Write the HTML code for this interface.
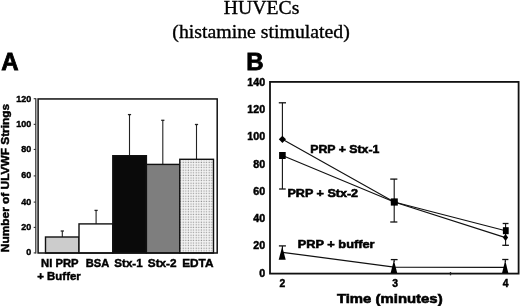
<!DOCTYPE html>
<html><head><meta charset="utf-8"><style>
html,body{margin:0;padding:0;background:#fff;width:520px;height:306px;overflow:hidden}
svg{display:block;will-change:transform}
</style></head><body>
<svg width="520" height="306" viewBox="0 0 520 306">
<defs>
<pattern id="dots" x="0" y="0" width="2.6" height="2.6" patternUnits="userSpaceOnUse">
<rect width="2.6" height="2.6" fill="#f5f5f5"/>
<rect x="0.6" y="0.6" width="1.2" height="1.2" fill="#939393"/>
</pattern>
</defs>
<rect width="520" height="306" fill="#fff"/>
<text x="261.6" y="13.9" font-family="'Liberation Serif', serif" font-size="18.4" font-weight="normal" text-anchor="middle" fill="#000" textLength="75.5" lengthAdjust="spacingAndGlyphs" stroke="#000" stroke-width="0.35" >HUVECs</text>
<text x="261.1" y="38.1" font-family="'Liberation Serif', serif" font-size="18.4" font-weight="normal" text-anchor="middle" fill="#000" textLength="177.5" lengthAdjust="spacingAndGlyphs" stroke="#000" stroke-width="0.35" >(histamine stimulated)</text>
<text x="1.2" y="70.3" font-family="'Liberation Sans', sans-serif" font-size="24" font-weight="bold" text-anchor="start" fill="#000" stroke="#000" stroke-width="0.8" >A</text>
<line x1="62.3" y1="237.0" x2="62.3" y2="231.0" stroke="#222" stroke-width="1.1"/>
<line x1="60.699999999999996" y1="231.0" x2="63.9" y2="231.0" stroke="#222" stroke-width="1.3"/>
<rect x="45.5" y="237.0" width="33.5" height="16.0" fill="#cccccc" stroke="#111" stroke-width="1.4"/>
<line x1="96.1" y1="223.9" x2="96.1" y2="210.4" stroke="#222" stroke-width="1.1"/>
<line x1="94.5" y1="210.4" x2="97.69999999999999" y2="210.4" stroke="#222" stroke-width="1.3"/>
<rect x="79.0" y="223.9" width="33.8" height="29.099999999999994" fill="#ffffff" stroke="#111" stroke-width="1.4"/>
<line x1="129.5" y1="155.7" x2="129.5" y2="114.6" stroke="#222" stroke-width="1.1"/>
<line x1="127.9" y1="114.6" x2="131.1" y2="114.6" stroke="#222" stroke-width="1.3"/>
<rect x="112.8" y="155.7" width="33.60000000000001" height="97.30000000000001" fill="#0a0a0a" stroke="#111" stroke-width="1.4"/>
<line x1="162.8" y1="164.4" x2="162.8" y2="120.3" stroke="#222" stroke-width="1.1"/>
<line x1="161.20000000000002" y1="120.3" x2="164.4" y2="120.3" stroke="#222" stroke-width="1.3"/>
<rect x="146.4" y="164.4" width="33.400000000000006" height="88.6" fill="#7e7e7e" stroke="#111" stroke-width="1.4"/>
<line x1="196.5" y1="159.3" x2="196.5" y2="124.5" stroke="#222" stroke-width="1.1"/>
<line x1="194.9" y1="124.5" x2="198.1" y2="124.5" stroke="#222" stroke-width="1.3"/>
<rect x="179.8" y="159.3" width="33.69999999999999" height="93.69999999999999" fill="url(#dots)" stroke="#111" stroke-width="1.4"/>
<rect x="38.1" y="98.95" width="179.1" height="154.05" fill="none" stroke="#111" stroke-width="1.5"/>
<line x1="35.8" y1="98.3" x2="35.8" y2="253.4" stroke="#3a3a3a" stroke-width="1.3"/>
<line x1="33.7" y1="252.9" x2="35.8" y2="252.9" stroke="#333" stroke-width="1.1"/>
<text x="31.2" y="255.4" font-family="'Liberation Sans', sans-serif" font-size="9" font-weight="bold" text-anchor="end" fill="#000" stroke="#000" stroke-width="0.4" >0</text>
<line x1="33.7" y1="227.4" x2="35.8" y2="227.4" stroke="#333" stroke-width="1.1"/>
<text x="31.2" y="229.9" font-family="'Liberation Sans', sans-serif" font-size="9" font-weight="bold" text-anchor="end" fill="#000" stroke="#000" stroke-width="0.4" >20</text>
<line x1="33.7" y1="202.1" x2="35.8" y2="202.1" stroke="#333" stroke-width="1.1"/>
<text x="31.2" y="204.6" font-family="'Liberation Sans', sans-serif" font-size="9" font-weight="bold" text-anchor="end" fill="#000" stroke="#000" stroke-width="0.4" >40</text>
<line x1="33.7" y1="175.9" x2="35.8" y2="175.9" stroke="#333" stroke-width="1.1"/>
<text x="31.2" y="178.4" font-family="'Liberation Sans', sans-serif" font-size="9" font-weight="bold" text-anchor="end" fill="#000" stroke="#000" stroke-width="0.4" >60</text>
<line x1="33.7" y1="149.45" x2="35.8" y2="149.45" stroke="#333" stroke-width="1.1"/>
<text x="31.2" y="151.95" font-family="'Liberation Sans', sans-serif" font-size="9" font-weight="bold" text-anchor="end" fill="#000" stroke="#000" stroke-width="0.4" >80</text>
<line x1="33.7" y1="124.35" x2="35.8" y2="124.35" stroke="#333" stroke-width="1.1"/>
<text x="31.2" y="126.85" font-family="'Liberation Sans', sans-serif" font-size="9" font-weight="bold" text-anchor="end" fill="#000" stroke="#000" stroke-width="0.4" >100</text>
<line x1="33.7" y1="98.7" x2="35.8" y2="98.7" stroke="#333" stroke-width="1.1"/>
<text x="31.2" y="101.9" font-family="'Liberation Sans', sans-serif" font-size="9" font-weight="bold" text-anchor="end" fill="#000" stroke="#000" stroke-width="0.4" >120</text>
<text transform="translate(8.7,178.0) rotate(-90)" x="0" y="0" font-family="'Liberation Sans', sans-serif" font-size="11" font-weight="bold" text-anchor="middle" stroke="#000" stroke-width="0.45" textLength="148.3" lengthAdjust="spacingAndGlyphs">Number of ULVWF Strings</text>
<text x="59.8" y="267.2" font-family="'Liberation Sans', sans-serif" font-size="11.5" font-weight="bold" text-anchor="middle" fill="#000" textLength="37.5" lengthAdjust="spacingAndGlyphs" stroke="#000" stroke-width="0.45" >NI PRP</text>
<text x="59.0" y="280.0" font-family="'Liberation Sans', sans-serif" font-size="11.5" font-weight="bold" text-anchor="middle" fill="#000" textLength="43.5" lengthAdjust="spacingAndGlyphs" stroke="#000" stroke-width="0.45" >+ Buffer</text>
<text x="97.5" y="267.2" font-family="'Liberation Sans', sans-serif" font-size="11.5" font-weight="bold" text-anchor="middle" fill="#000" textLength="23.5" lengthAdjust="spacingAndGlyphs" stroke="#000" stroke-width="0.45" >BSA</text>
<text x="128.5" y="267.2" font-family="'Liberation Sans', sans-serif" font-size="11.5" font-weight="bold" text-anchor="middle" fill="#000" textLength="28.3" lengthAdjust="spacingAndGlyphs" stroke="#000" stroke-width="0.45" >Stx-1</text>
<text x="162.2" y="267.2" font-family="'Liberation Sans', sans-serif" font-size="11.5" font-weight="bold" text-anchor="middle" fill="#000" textLength="28.8" lengthAdjust="spacingAndGlyphs" stroke="#000" stroke-width="0.45" >Stx-2</text>
<text x="197.8" y="267.2" font-family="'Liberation Sans', sans-serif" font-size="11.5" font-weight="bold" text-anchor="middle" fill="#000" textLength="31.3" lengthAdjust="spacingAndGlyphs" stroke="#000" stroke-width="0.45" >EDTA</text>
<text x="246.2" y="70.3" font-family="'Liberation Sans', sans-serif" font-size="24" font-weight="bold" text-anchor="start" fill="#000" stroke="#000" stroke-width="0.8" >B</text>
<rect x="270.0" y="81.9" width="248.6" height="191.7" fill="none" stroke="#111" stroke-width="1.8"/>
<text x="265.2" y="276.7" font-family="'Liberation Sans', sans-serif" font-size="10.3" font-weight="bold" text-anchor="end" fill="#000" textLength="5.95" lengthAdjust="spacingAndGlyphs" stroke="#000" stroke-width="0.45" >0</text>
<text x="265.2" y="249.44285714285712" font-family="'Liberation Sans', sans-serif" font-size="10.3" font-weight="bold" text-anchor="end" fill="#000" textLength="11.9" lengthAdjust="spacingAndGlyphs" stroke="#000" stroke-width="0.45" >20</text>
<text x="265.2" y="222.18571428571425" font-family="'Liberation Sans', sans-serif" font-size="10.3" font-weight="bold" text-anchor="end" fill="#000" textLength="11.9" lengthAdjust="spacingAndGlyphs" stroke="#000" stroke-width="0.45" >40</text>
<text x="265.2" y="194.92857142857142" font-family="'Liberation Sans', sans-serif" font-size="10.3" font-weight="bold" text-anchor="end" fill="#000" textLength="11.9" lengthAdjust="spacingAndGlyphs" stroke="#000" stroke-width="0.45" >60</text>
<text x="265.2" y="167.67142857142855" font-family="'Liberation Sans', sans-serif" font-size="10.3" font-weight="bold" text-anchor="end" fill="#000" textLength="11.9" lengthAdjust="spacingAndGlyphs" stroke="#000" stroke-width="0.45" >80</text>
<text x="265.2" y="140.41428571428568" font-family="'Liberation Sans', sans-serif" font-size="10.3" font-weight="bold" text-anchor="end" fill="#000" textLength="17.85" lengthAdjust="spacingAndGlyphs" stroke="#000" stroke-width="0.45" >100</text>
<text x="265.2" y="113.15714285714286" font-family="'Liberation Sans', sans-serif" font-size="10.3" font-weight="bold" text-anchor="end" fill="#000" textLength="17.85" lengthAdjust="spacingAndGlyphs" stroke="#000" stroke-width="0.45" >120</text>
<text x="265.2" y="85.89999999999999" font-family="'Liberation Sans', sans-serif" font-size="10.3" font-weight="bold" text-anchor="end" fill="#000" textLength="17.85" lengthAdjust="spacingAndGlyphs" stroke="#000" stroke-width="0.45" >140</text>
<line x1="450.5" y1="272.0" x2="450.5" y2="275.3" stroke="#222" stroke-width="1.3"/>
<line x1="282.4" y1="102.8" x2="282.4" y2="139.3" stroke="#111" stroke-width="1.1"/>
<line x1="278.79999999999995" y1="102.8" x2="286.0" y2="102.8" stroke="#111" stroke-width="1.3"/>
<line x1="282.4" y1="155.5" x2="282.4" y2="189.0" stroke="#111" stroke-width="1.1"/>
<line x1="279.09999999999997" y1="189.0" x2="285.7" y2="189.0" stroke="#111" stroke-width="1.3"/>
<line x1="394.2" y1="179.1" x2="394.2" y2="222.0" stroke="#111" stroke-width="1.1"/>
<line x1="390.25" y1="179.1" x2="397.35" y2="179.1" stroke="#111" stroke-width="1.3"/>
<line x1="390.25" y1="222.0" x2="397.35" y2="222.0" stroke="#111" stroke-width="1.3"/>
<line x1="505.6" y1="223.5" x2="505.6" y2="245.3" stroke="#111" stroke-width="1.1"/>
<line x1="502.70000000000005" y1="223.5" x2="508.5" y2="223.5" stroke="#111" stroke-width="1.3"/>
<line x1="502.3" y1="245.3" x2="508.90000000000003" y2="245.3" stroke="#111" stroke-width="1.3"/>
<line x1="282.4" y1="245.9" x2="282.4" y2="250" stroke="#111" stroke-width="1.1"/>
<line x1="278.9" y1="245.9" x2="285.9" y2="245.9" stroke="#111" stroke-width="1.3"/>
<line x1="394.2" y1="259.6" x2="394.2" y2="262" stroke="#111" stroke-width="1.1"/>
<line x1="390.8" y1="259.6" x2="397.59999999999997" y2="259.6" stroke="#111" stroke-width="1.3"/>
<line x1="505.3" y1="259.5" x2="505.3" y2="262" stroke="#111" stroke-width="1.1"/>
<line x1="502.2" y1="259.5" x2="508.40000000000003" y2="259.5" stroke="#111" stroke-width="1.3"/>
<polyline points="282.4,139.3 394.2,202 505.5,237.6" fill="none" stroke="#111" stroke-width="1.15"/>
<polyline points="282.4,155.5 394.2,202 505.6,230.7" fill="none" stroke="#111" stroke-width="1.15"/>
<polyline points="282.4,252.3 394.2,267.1 505.3,267.4" fill="none" stroke="#111" stroke-width="1.25"/>
<polygon points="282.4,135.70000000000002 286.0,139.3 282.4,142.9 278.79999999999995,139.3" fill="#000"/>
<polygon points="394.2,198.4 397.8,202 394.2,205.6 390.59999999999997,202" fill="#000"/>
<polygon points="505.5,233.9 508.1,237.5 505.5,241.1 502.9,237.5" fill="#000"/>
<rect x="279.09999999999997" y="152.0" width="6.6" height="7.0" fill="#000"/>
<rect x="390.8" y="198.4" width="7.0" height="7.2" fill="#000"/>
<rect x="502.90000000000003" y="227.2" width="5.8" height="7.0" fill="#000"/>
<polygon points="282.2,246.6 285.7,259.7 278.7,259.7" fill="#000"/>
<polygon points="393.9,260.3 397.2,273 390.59999999999997,273" fill="#000"/>
<polygon points="505.2,260.3 508.3,273 502.09999999999997,273" fill="#000"/>
<text x="310.2" y="152.5" font-family="'Liberation Sans', sans-serif" font-size="10.8" font-weight="bold" text-anchor="start" fill="#000" textLength="69.2" lengthAdjust="spacingAndGlyphs" stroke="#000" stroke-width="0.55" >PRP + Stx-1</text>
<text x="287.5" y="196.9" font-family="'Liberation Sans', sans-serif" font-size="10.8" font-weight="bold" text-anchor="start" fill="#000" textLength="70.6" lengthAdjust="spacingAndGlyphs" stroke="#000" stroke-width="0.55" >PRP + Stx-2</text>
<text x="297.7" y="248.0" font-family="'Liberation Sans', sans-serif" font-size="10.8" font-weight="bold" text-anchor="start" fill="#000" textLength="76.9" lengthAdjust="spacingAndGlyphs" stroke="#000" stroke-width="0.55" >PRP + buffer</text>
<text x="282.3" y="286.8" font-family="'Liberation Sans', sans-serif" font-size="10.3" font-weight="bold" text-anchor="middle" fill="#000" stroke="#000" stroke-width="0.45" >2</text>
<text x="395.2" y="286.8" font-family="'Liberation Sans', sans-serif" font-size="10.3" font-weight="bold" text-anchor="middle" fill="#000" stroke="#000" stroke-width="0.45" >3</text>
<text x="505.6" y="286.8" font-family="'Liberation Sans', sans-serif" font-size="10.3" font-weight="bold" text-anchor="middle" fill="#000" stroke="#000" stroke-width="0.45" >4</text>
<text x="336.9" y="302.7" font-family="'Liberation Sans', sans-serif" font-size="13" font-weight="bold" text-anchor="start" fill="#000" textLength="105.7" lengthAdjust="spacingAndGlyphs" stroke="#000" stroke-width="0.6" >Time (minutes)</text>
</svg>
</body></html>
